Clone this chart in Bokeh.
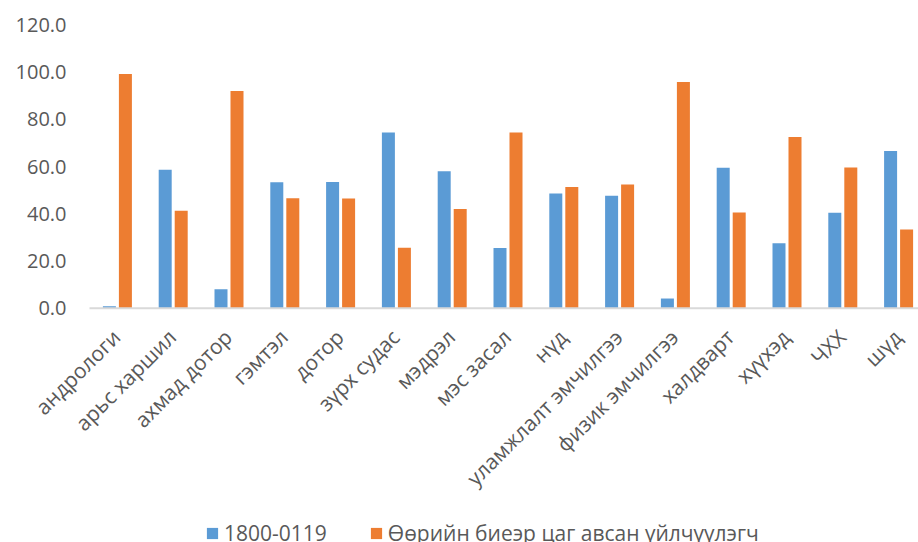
import math
from bokeh.plotting import figure
from bokeh.models import ColumnDataSource, Range1d, Legend, LegendItem
from bokeh.core.properties import value
from bokeh.transform import dodge
from bokeh.embed import file_html
from bokeh.resources import INLINE

# Departments and share of clients (%) by booking channel
departments = [
    "андрологи", "арьс харшил", "ахмад дотор", "гэмтэл", "дотор",
    "зүрх судас", "мэдрэл", "мэс засал", "нүд", "уламжлалт эмчилгээ",
    "физик эмчилгээ", "халдварт", "хүүхэд", "ЧХХ", "шүд",
]
hotline = [0.8, 58.7, 8.0, 53.4, 53.5, 74.4, 58.0, 25.5, 48.6, 47.6,
           4.1, 59.5, 27.5, 40.4, 66.6]
self_booked = [99.2, 41.3, 92.0, 46.6, 46.5, 25.6, 42.0, 74.5, 51.4, 52.4,
               95.9, 40.5, 72.5, 59.6, 33.4]
series_names = ["1800-0119", "Өөрийн биеэр цаг авсан үйлчүүлэгч"]
y_ticks = [0, 20, 40, 60, 80, 100, 120]

BLUE = "#5B9BD5"
ORANGE = "#ED7D31"
TEXT = "#595959"
FONT = "Open Sans"

n = len(departments)
idx = list(range(n))
src = ColumnDataSource(dict(idx=idx, hotline=hotline, self_booked=self_booked,
                            name=departments, base=[0] * n))
tick_src = ColumnDataSource(dict(y=y_ticks, label=[f"{t:.1f}" for t in y_ticks],
                                 x=[-0.5] * len(y_ticks)))

# The plot area covers the whole canvas so that the value labels, the rotated
# category names and the legend around the bars are drawn inside it.
W, H = 918, 542
cat_px = 55.8                 # pixels per category slot
left_px = 89                  # where the category area begins
top_px = 24.5                 # pixel row of the 120 line
zero_px = 307.7               # pixel row of the zero line
px_per_unit = (zero_px - top_px) / 120
x_start = -0.5 - left_px / cat_px
x_end = -0.5 + (W - left_px) / cat_px
y_start = -(H - zero_px) / px_per_unit
y_end = 120 + top_px / px_per_unit

p = figure(
    width=W, height=H,
    output_backend="svg", toolbar_location=None,
    x_range=Range1d(x_start, x_end),
    y_range=Range1d(y_start, y_end),
    min_border=0,
)
p.outline_line_color = None
p.background_fill_color = "white"
p.border_fill_color = "white"
p.xgrid.visible = False
p.ygrid.visible = False
p.xaxis.visible = False
p.yaxis.visible = False

w = 0.233
r1 = p.vbar(x=dodge("idx", -0.1434, range=p.x_range), top="hotline", width=w,
            source=src, fill_color=BLUE, line_color=None)
r2 = p.vbar(x=dodge("idx", 0.1434, range=p.x_range), top="self_booked", width=w,
            source=src, fill_color=ORANGE, line_color=None)

# category axis line at zero
p.segment(x0=[-0.5], x1=[x_end], y0=[0], y1=[0], line_color="#D9D9D9", line_width=2)

# value axis labels, right-aligned left of the category area
p.text(x="x", y="y", text="label", source=tick_src, x_offset=-23,
       text_align="right", text_baseline="middle",
       text_font=value(FONT), text_font_size="20px", text_color=TEXT)

# category names, rotated 45 degrees, ending just under each group
p.text(x="idx", y="base", text="name", source=src, angle=math.pi / 4,
       text_align="right", text_baseline="middle", y_offset=25, x_offset=-1,
       text_font=value(FONT), text_font_size="21px", text_color=TEXT)

legend = Legend(
    items=[LegendItem(label=series_names[0], renderers=[r1]),
           LegendItem(label=series_names[1], renderers=[r2])],
    orientation="horizontal",
    location=(205, -5),
    glyph_width=14, glyph_height=14,
    label_standoff=5, spacing=42, padding=0, margin=0,
    label_text_font=FONT, label_text_font_size="21px",
    label_text_color=TEXT,
    border_line_color=None, background_fill_alpha=0,
)
p.add_layout(legend, "center")

open("out.html", "w").write(file_html(p, INLINE))
